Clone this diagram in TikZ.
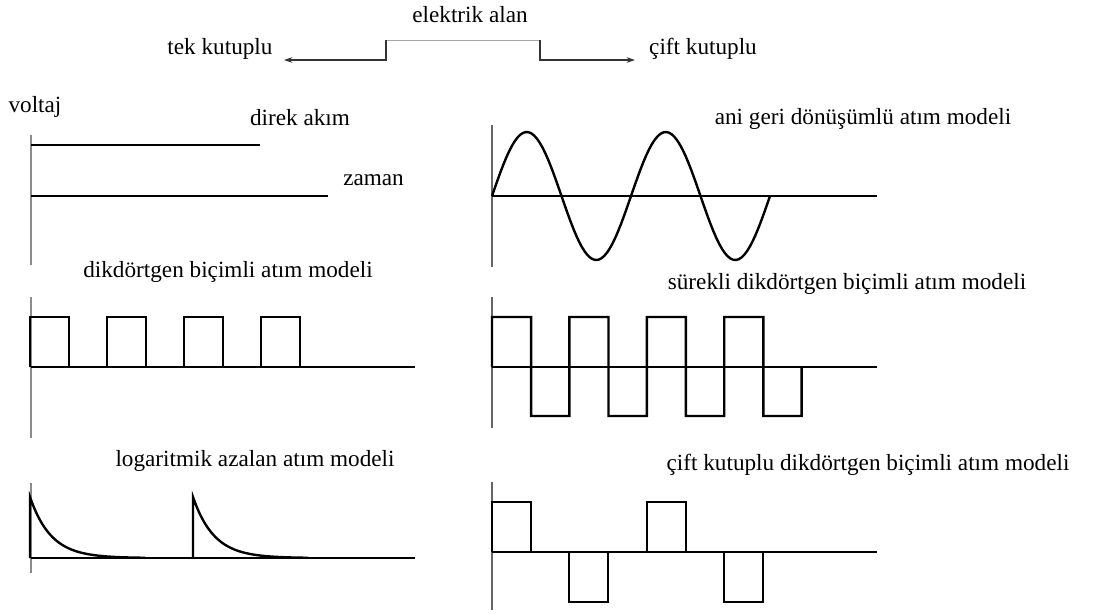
\documentclass[tikz,border=0pt]{standalone}
\usepackage{fontspec}
\setmainfont{Liberation Serif}
\usetikzlibrary{arrows.meta}
\begin{document}
\begin{tikzpicture}[x=0.025cm, y=-0.025cm, >={Stealth[length=6pt,width=4pt]},
    lbl/.style={font=\fontsize{16.5}{19}\selectfont, inner sep=0pt, text height=1.5ex, text depth=.25ex},
    eksen/.style={line width=1.8pt, draw=black!45},
    ekseninc/.style={line width=0.8pt, draw=black!60},
    taban/.style={line width=0.8pt},
    dalga/.style={line width=1.7pt}]
  \useasboundingbox (0,0) rectangle (1108,614);

  % elektrik alan
  \node[lbl] (alan) at (470,18) {elektrik alan};
  \node[lbl] (tek) at (220,50) {tek kutuplu};
  \node[lbl] (cift) at (703,50) {çift kutuplu};
  \coordinate (sol) at (386,40);
  \coordinate (sag) at (540,40);
  \coordinate (solok) at (284,60);
  \coordinate (sagok) at (635,60);
  \draw[line width=0.6pt, draw=black!35] (sol) -- (sag);
  \draw[line width=1pt, draw=black!80, ->] (sol) |- (solok);
  \draw[line width=1pt, draw=black!80, ->] (sag) |- (sagok);

  % direk akim
  \node[lbl] (voltaj) at (35,108) {voltaj};
  \node[lbl] (direk) at (300,121) {direk akım};
  \node[lbl, anchor=west] (zaman) at (343,181) {zaman};
  \draw[eksen] (31,135) -- (31,265);
  \draw[taban] (31,196) -- (328,196);
  \draw[line width=2pt] (31,145) -- (236,145);
  \draw[taban] (236,145) -- (260,145);

  % dikdortgen bicimli atim modeli
  \node[lbl] (dikdortgen) at (228,273) {dikdörtgen biçimli atım modeli};
  \draw[eksen] (31,297) -- (31,438);
  \draw[taban] (31,367) -- (415,367);
  \foreach \k in {0,...,3}
    \draw[dalga] ({30+77*\k},367) -- ({30+77*\k},317) -- ({69+77*\k},317) -- ({69+77*\k},367);

  % logaritmik azalan atim modeli
  \node[lbl] (logaritmik) at (255,462) {logaritmik azalan atım modeli};
  \draw[eksen] (31,483) -- (31,573);
  \draw[taban] (31,558) -- (415,558);
  \foreach \s in {30,193}
    \draw[dalga] (\s,558) -- (\s,497) -- plot[domain=0:115, samples=40] ({\s+\x},{558-61*exp(-\x/21)});

  % ani geri donusumlu atim modeli
  \node[lbl] (ani) at (863,120) {ani geri dönüşümlü atım modeli};
  \draw[ekseninc] (492,125) -- (492,267);
  \draw[taban] (492,196) -- (877,196);
  \draw[dalga] plot[domain=0:2, samples=100] ({492+139*\x},{196-64*sin(360*\x)});

  % surekli dikdortgen bicimli atim modeli
  \node[lbl] (surekli) at (847,285) {sürekli dikdörtgen biçimli atım modeli};
  \draw[ekseninc] (492,297) -- (492,428);
  \draw[taban] (492,367) -- (877,367);
  \draw[dalga] (492,367)
    \foreach \k in {0,...,3}{ -- ({492+77.4*\k},317) -- ({531.1+77.4*\k},317)
      -- ({531.1+77.4*\k},416) -- ({569.4+77.4*\k},416) } -- (801.6,367);

  % cift kutuplu dikdortgen bicimli atim modeli
  \node[lbl] (ciftkutup) at (868,466) {çift kutuplu dikdörtgen biçimli atım modeli};
  \draw[ekseninc] (492,482) -- (492,610);
  \draw[taban] (492,552) -- (877,552);
  \foreach \k in {0,1}{
    \draw[dalga] ({492+155*\k},552) -- ({492+155*\k},502) -- ({531+155*\k},502) -- ({531+155*\k},552);
    \draw[dalga] ({569+155*\k},552) -- ({569+155*\k},602) -- ({608+155*\k},602) -- ({608+155*\k},552);
  }
\end{tikzpicture}
\end{document}
